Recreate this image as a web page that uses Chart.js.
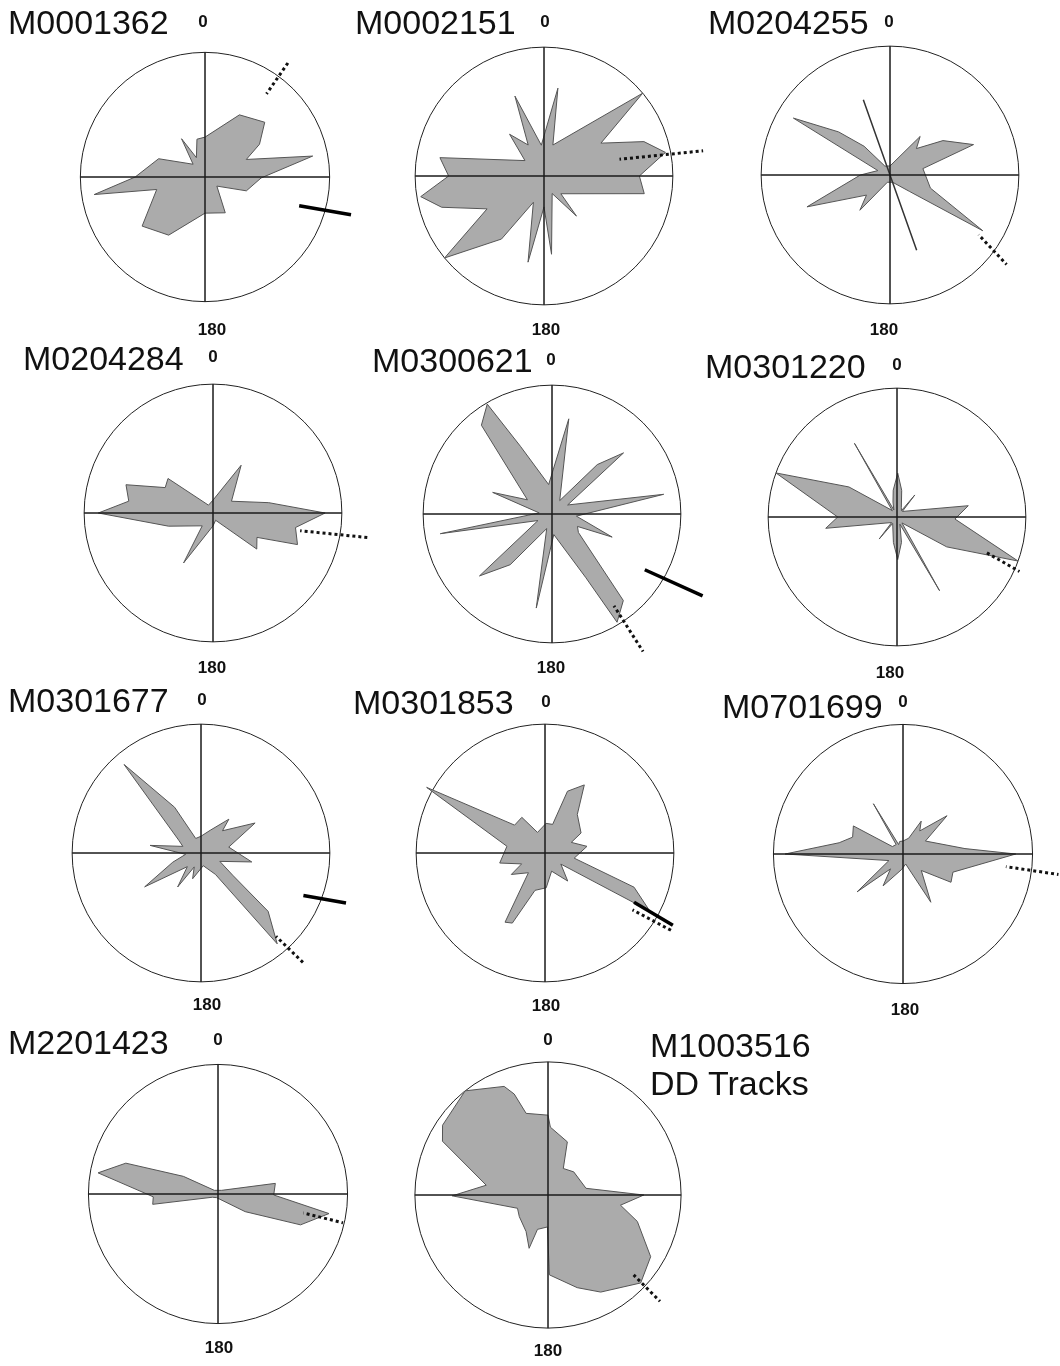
<!DOCTYPE html>
<html lang="en">
<head>
<meta charset="UTF-8">
<title>DD Tracks</title>
<style>
  body { margin: 0; background: #fff; }
  #page { position: relative; width: 1060px; height: 1366px; overflow: hidden; font-family: "Liberation Sans", Arial, sans-serif; color: #111; }
  #page canvas { position: absolute; }
  .ttl { position: absolute; font-size: 34px; transform: translateY(-50%); white-space: nowrap; }
  .deg { position: absolute; font-size: 17px; font-weight: bold; transform: translate(-50%, -50%); }
</style>
</head>
<body>
<div id="page"></div>

<script src="https://cdn.jsdelivr.net/npm/chart.js"></script>
<script>
// direction (deg clockwise from 0) and relative length of each rose vertex
const m0001362Deg = [0, 29, 47.5, 59, 67, 79, 91, 108.5, 127.5, 150.5, 180, 212, 232, 255.5, 261, 270, 291.5, 317, 328.5, 336, 348];
const m0001362Len = [0.32, 0.57, 0.65, 0.51, 0.36, 0.88, 0.45, 0.35, 0.12, 0.33, 0.29, 0.55, 0.64, 0.40, 0.90, 0.56, 0.40, 0.14, 0.36, 0.17, 0.31];
const m0002151Deg = [9, 16, 50, 60, 71, 79, 90, 100, 136.5, 141, 155, 174.5, 180, 190.5, 202, 214, 230.5, 240, 253, 260.5, 270, 280, 309, 320.5, 333, 340, 355];
const m0002151Len = [0.69, 0.25, 1.0, 0.51, 0.82, 0.96, 0.74, 0.79, 0.19, 0.40, 0.15, 0.61, 0.24, 0.68, 0.22, 0.59, 1.0, 0.51, 0.83, 0.97, 0.74, 0.82, 0.19, 0.42, 0.27, 0.66, 0.24];
const m0204255Deg = [0, 38, 45, 57, 70, 79, 108, 121, 130, 160, 200, 220.5, 229.5, 249, 270, 290, 300.5, 310, 318, 330];
const m0204255Len = [0.07, 0.38, 0.29, 0.49, 0.69, 0.26, 0.33, 0.84, 0.20, 0.06, 0.06, 0.36, 0.24, 0.69, 0.23, 0.1, 0.87, 0.52, 0.3, 0.08];
const m0204284Deg = [0, 30.5, 57.5, 79.5, 90, 100, 110.5, 119, 129.5, 160, 180, 210.5, 220, 253.5, 270, 278, 288, 298, 307.5, 330];
const m0204284Len = [0.1, 0.43, 0.17, 0.44, 0.87, 0.65, 0.70, 0.39, 0.44, 0.06, 0.1, 0.45, 0.13, 0.36, 0.89, 0.66, 0.71, 0.42, 0.44, 0.07];
const m0300621Deg = [10, 30, 42.5, 49.5, 60, 80, 95, 111, 116, 125, 140.5, 149, 152, 175, 189.5, 200, 219.5, 229.5, 245, 260, 275, 290, 300, 321.5, 329.5, 335, 353.5];
const m0300621Len = [0.75, 0.12, 0.52, 0.73, 0.14, 0.88, 0.19, 0.50, 0.22, 0.25, 0.87, 0.98, 0.56, 0.16, 0.74, 0.12, 0.51, 0.74, 0.12, 0.88, 0.1, 0.49, 0.22, 0.88, 0.99, 0.58, 0.23];
const m0301220Deg = [1, 10, 25, 35, 39, 44, 81, 92, 110, 121, 140, 150, 158, 170, 179, 188, 214, 219, 224, 261, 270, 290, 302, 318, 323, 330, 336, 345, 352];
const m0301220Len = [0.34, 0.21, 0.08, 0.06, 0.22, 0.06, 0.56, 0.45, 1.0, 0.45, 0.06, 0.66, 0.06, 0.2, 0.33, 0.2, 0.06, 0.22, 0.06, 0.56, 0.46, 1.0, 0.44, 0.08, 0.06, 0.66, 0.06, 0.12, 0.21];
const m0301677Deg = [0, 22, 39.5, 44, 61, 78, 100, 114, 125, 131, 140, 146, 170, 198, 206, 214.5, 225, 239, 252, 265, 278.5, 290, 300, 319, 330, 340];
const m0301677Len = [0.13, 0.19, 0.34, 0.24, 0.48, 0.22, 0.40, 0.16, 0.3, 0.69, 0.92, 0.2, 0.1, 0.21, 0.12, 0.32, 0.15, 0.51, 0.23, 0.12, 0.40, 0.15, 0.2, 0.91, 0.41, 0.12];
const m0301853Deg = [2, 15, 20, 30, 40, 61, 68, 81, 100, 111, 119, 125, 141, 160, 178, 195, 205, 210, 220, 237.5, 245, 257.5, 280, 299, 312.5, 327, 340];
const m0301853Len = [0.23, 0.23, 0.51, 0.61, 0.39, 0.32, 0.22, 0.33, 0.23, 0.74, 0.93, 0.15, 0.28, 0.15, 0.27, 0.3, 0.6, 0.62, 0.2, 0.31, 0.2, 0.36, 0.3, 1.05, 0.32, 0.33, 0.17];
const m0701699Deg = [0, 20, 29, 36, 49, 60, 85, 90, 110, 120.5, 132, 150, 165, 185, 212, 220, 230.5, 245, 270, 280, 288.5, 299.5, 305, 324, 329.5, 335, 345];
const m0701699Len = [0.1, 0.13, 0.29, 0.22, 0.45, 0.2, 0.48, 0.87, 0.41, 0.43, 0.19, 0.43, 0.08, 0.12, 0.29, 0.15, 0.46, 0.12, 0.91, 0.5, 0.41, 0.44, 0.1, 0.09, 0.45, 0.08, 0.1];
const m2201423Deg = [45, 79.5, 91, 100, 110.5, 123, 200, 240, 261, 267.5, 280, 288.5, 297, 315];
const m2201423Len = [0.04, 0.45, 0.43, 0.87, 0.68, 0.25, 0.03, 0.05, 0.51, 0.50, 0.94, 0.75, 0.30, 0.04];
const m1003516Deg = [0, 2, 20, 30, 48, 80, 90, 98, 106.5, 121, 133.5, 151.5, 162.5, 179, 181, 197, 199.5, 211, 233, 246.5, 269.5, 279, 297, 303.5, 321.5, 338, 341.5, 345];
const m1003516Len = [0.60, 0.51, 0.425, 0.23, 0.26, 0.29, 0.72, 0.55, 0.70, 0.90, 0.96, 0.83, 0.73, 0.60, 0.24, 0.27, 0.425, 0.32, 0.27, 0.25, 0.72, 0.47, 0.89, 0.95, 1.0, 0.88, 0.80, 0.635];

// track markers: [inner deg, inner length, outer deg, outer length]
const m0001362Dotted = [36.5, 0.83, 36, 1.15];
const m0001362Solid = [107, 0.79, 104.5, 1.21];
const m0002151Dotted = [77.5, 0.60, 81, 1.25];
const m0204255Dotted = [124, 0.83, 127.5, 1.14];
const m0204255Axis = [160.5, 0.62, 340.5, 0.62];
const m0204284Dotted = [101.5, 0.69, 99, 1.22];
const m0300621Dotted = [146, 0.86, 146.5, 1.28];
const m0300621Solid = [121, 0.84, 118.5, 1.33];
const m0301220Dotted = [111.5, 0.73, 114, 1.04];
const m0301677Dotted = [138, 0.87, 137, 1.17];
const m0301677Solid = [112.5, 0.86, 109, 1.19];
const m0301853Dotted = [123, 0.81, 121.5, 1.16];
const m0301853Solid = [119, 0.79, 119.5, 1.14];
const m0701699Dotted = [97, 0.80, 97.5, 1.21];
const m2201423Dotted = [102.5, 0.675, 103, 0.99];
const m1003516Dotted = [133, 0.88, 133.5, 1.16];

const RMAX = 1.42;
const DOT = 3;
const page = document.getElementById('page');

// placement on the page
const panels = [
    { name: 'M0001362', deg: m0001362Deg, len: m0001362Len, dotted: m0001362Dotted, solid: m0001362Solid, cx: 205, cy: 177, r: 125, tx: 8, ty: 22, zx: 203, zy: 22, bx: 212, by: 330 },
    { name: 'M0002151', deg: m0002151Deg, len: m0002151Len, dotted: m0002151Dotted, cx: 544, cy: 176, r: 129, tx: 355, ty: 22, zx: 545, zy: 22, bx: 546, by: 330 },
    { name: 'M0204255', deg: m0204255Deg, len: m0204255Len, dotted: m0204255Dotted, axis: m0204255Axis, cx: 890, cy: 175, r: 129, tx: 708, ty: 22, zx: 889, zy: 22, bx: 884, by: 330 },
    { name: 'M0204284', deg: m0204284Deg, len: m0204284Len, dotted: m0204284Dotted, cx: 213, cy: 513, r: 129, tx: 23, ty: 358, zx: 213, zy: 357, bx: 212, by: 668 },
    { name: 'M0300621', deg: m0300621Deg, len: m0300621Len, dotted: m0300621Dotted, solid: m0300621Solid, cx: 552, cy: 514, r: 129, tx: 372, ty: 360, zx: 551, zy: 360, bx: 551, by: 668 },
    { name: 'M0301220', deg: m0301220Deg, len: m0301220Len, dotted: m0301220Dotted, cx: 897, cy: 517, r: 129, tx: 705, ty: 366, zx: 897, zy: 365, bx: 890, by: 673 },
    { name: 'M0301677', deg: m0301677Deg, len: m0301677Len, dotted: m0301677Dotted, solid: m0301677Solid, cx: 201, cy: 853, r: 129, tx: 8, ty: 700, zx: 202, zy: 700, bx: 207, by: 1005 },
    { name: 'M0301853', deg: m0301853Deg, len: m0301853Len, dotted: m0301853Dotted, solid: m0301853Solid, cx: 545, cy: 853, r: 129, tx: 353, ty: 702, zx: 546, zy: 702, bx: 546, by: 1006 },
    { name: 'M0701699', deg: m0701699Deg, len: m0701699Len, dotted: m0701699Dotted, cx: 903, cy: 854, r: 130, tx: 722, ty: 706, zx: 903, zy: 702, bx: 905, by: 1010 },
    { name: 'M2201423', deg: m2201423Deg, len: m2201423Len, dotted: m2201423Dotted, cx: 218, cy: 1194, r: 130, tx: 8, ty: 1042, zx: 218, zy: 1040, bx: 219, by: 1348 },
    { name: '', deg: m1003516Deg, len: m1003516Len, dotted: m1003516Dotted, cx: 548, cy: 1195, r: 133, zx: 548, zy: 1040, bx: 548, by: 1351 }
];

// 0.5 degree steps around the circle
const degLabels = [];
for (let i = 0; i < 720; i++) {
    degLabels.push(i / 2);
}

function f_series(degs, vals) {
    let out = new Array(720).fill(null);
    for (let i = 0; i < degs.length; i++) {
        let k = Math.round(degs[i] * 2) % 720;
        while (out[k] !== null) k = (k + 1) % 720;
        out[k] = vals[i];
    }
    return out;
}

function f_line(data, color, width, dash) {
    return {
        data: data,
        spanGaps: true,
        fill: false,
        borderColor: color,
        borderWidth: width,
        borderDash: dash || [],
        pointRadius: 0,
        pointHoverRadius: 0,
        pointHitRadius: 0
    };
}

// a 2-point radar line is stroked there and back; shift the dots so both passes land on the same spots
function f_dotOffset(ctx) {
    try {
        const s = ctx.chart.scales.r;
        const d = ctx.chart.data.datasets[ctx.datasetIndex].data;
        let idx = [];
        d.forEach((v, i) => { if (v !== null) idx.push(i); });
        const a = s.getPointPositionForValue(idx[0], d[idx[0]]);
        const b = s.getPointPositionForValue(idx[1], d[idx[1]]);
        const L = Math.hypot(a.x - b.x, a.y - b.y);
        return DOT / 2 - L;
    } catch (e) {
        return 0;
    }
}

function f_text(cls, txt, x, y) {
    let d = document.createElement('div');
    d.className = cls;
    d.textContent = txt;
    d.style.left = x + 'px';
    d.style.top = y + 'px';
    page.appendChild(d);
}

panels.forEach(p => {
    const size = Math.round(2 * p.r * RMAX);
    const cv = document.createElement('canvas');
    cv.width = size;
    cv.height = size;
    cv.style.left = (p.cx - Math.floor(size / 2)) + 'px';
    cv.style.top = (p.cy - Math.floor(size / 2)) + 'px';
    page.appendChild(cv);

    // first dataset is drawn last (on top)
    let sets = [];
    sets.push(f_line(f_series([0, 180], [1, 1]), '#1a1a1a', 1));
    sets.push(f_line(f_series([90, 270], [1, 1]), '#1a1a1a', 1));
    if (p.axis) sets.push(f_line(f_series([p.axis[0], p.axis[2]], [p.axis[1], p.axis[3]]), '#333', 1.5));
    if (p.solid) sets.push(f_line(f_series([p.solid[0], p.solid[2]], [p.solid[1], p.solid[3]]), '#000', 3.5));
    if (p.dotted) {
        let dl = f_line(f_series([p.dotted[0], p.dotted[2]], [p.dotted[1], p.dotted[3]]), '#111', 3, [DOT, DOT]);
        dl.borderDashOffset = f_dotOffset;
        sets.push(dl);
    }
    sets.push({
        data: f_series(p.deg, p.len),
        spanGaps: true,
        fill: true,
        backgroundColor: '#ababab',
        borderColor: '#555',
        borderWidth: 1,
        pointRadius: 0,
        pointHoverRadius: 0,
        pointHitRadius: 0
    });

    new Chart(cv, {
        type: 'radar',
        data: { labels: degLabels, datasets: sets },
        options: {
            responsive: false,
            animation: false,
            events: [],
            layout: { autoPadding: false, padding: 0 },
            plugins: { legend: { display: false }, tooltip: { enabled: false } },
            elements: { line: { tension: 0 } },
            scales: {
                r: {
                    min: 0,
                    max: RMAX,
                    ticks: { display: false, stepSize: 1 },
                    pointLabels: { display: false },
                    angleLines: { display: false },
                    grid: {
                        circular: true,
                        lineWidth: 1,
                        color: c => (c.tick && Math.abs(c.tick.value - 1) < 1e-6) ? '#222' : 'rgba(0,0,0,0)'
                    }
                }
            }
        }
    });

    if (p.name) f_text('ttl', p.name, p.tx, p.ty);
    f_text('deg', '0', p.zx, p.zy);
    f_text('deg', '180', p.bx, p.by);
});

f_text('ttl', 'M1003516', 650, 1045);
f_text('ttl', 'DD Tracks', 650, 1083);
</script>
</body>
</html>
